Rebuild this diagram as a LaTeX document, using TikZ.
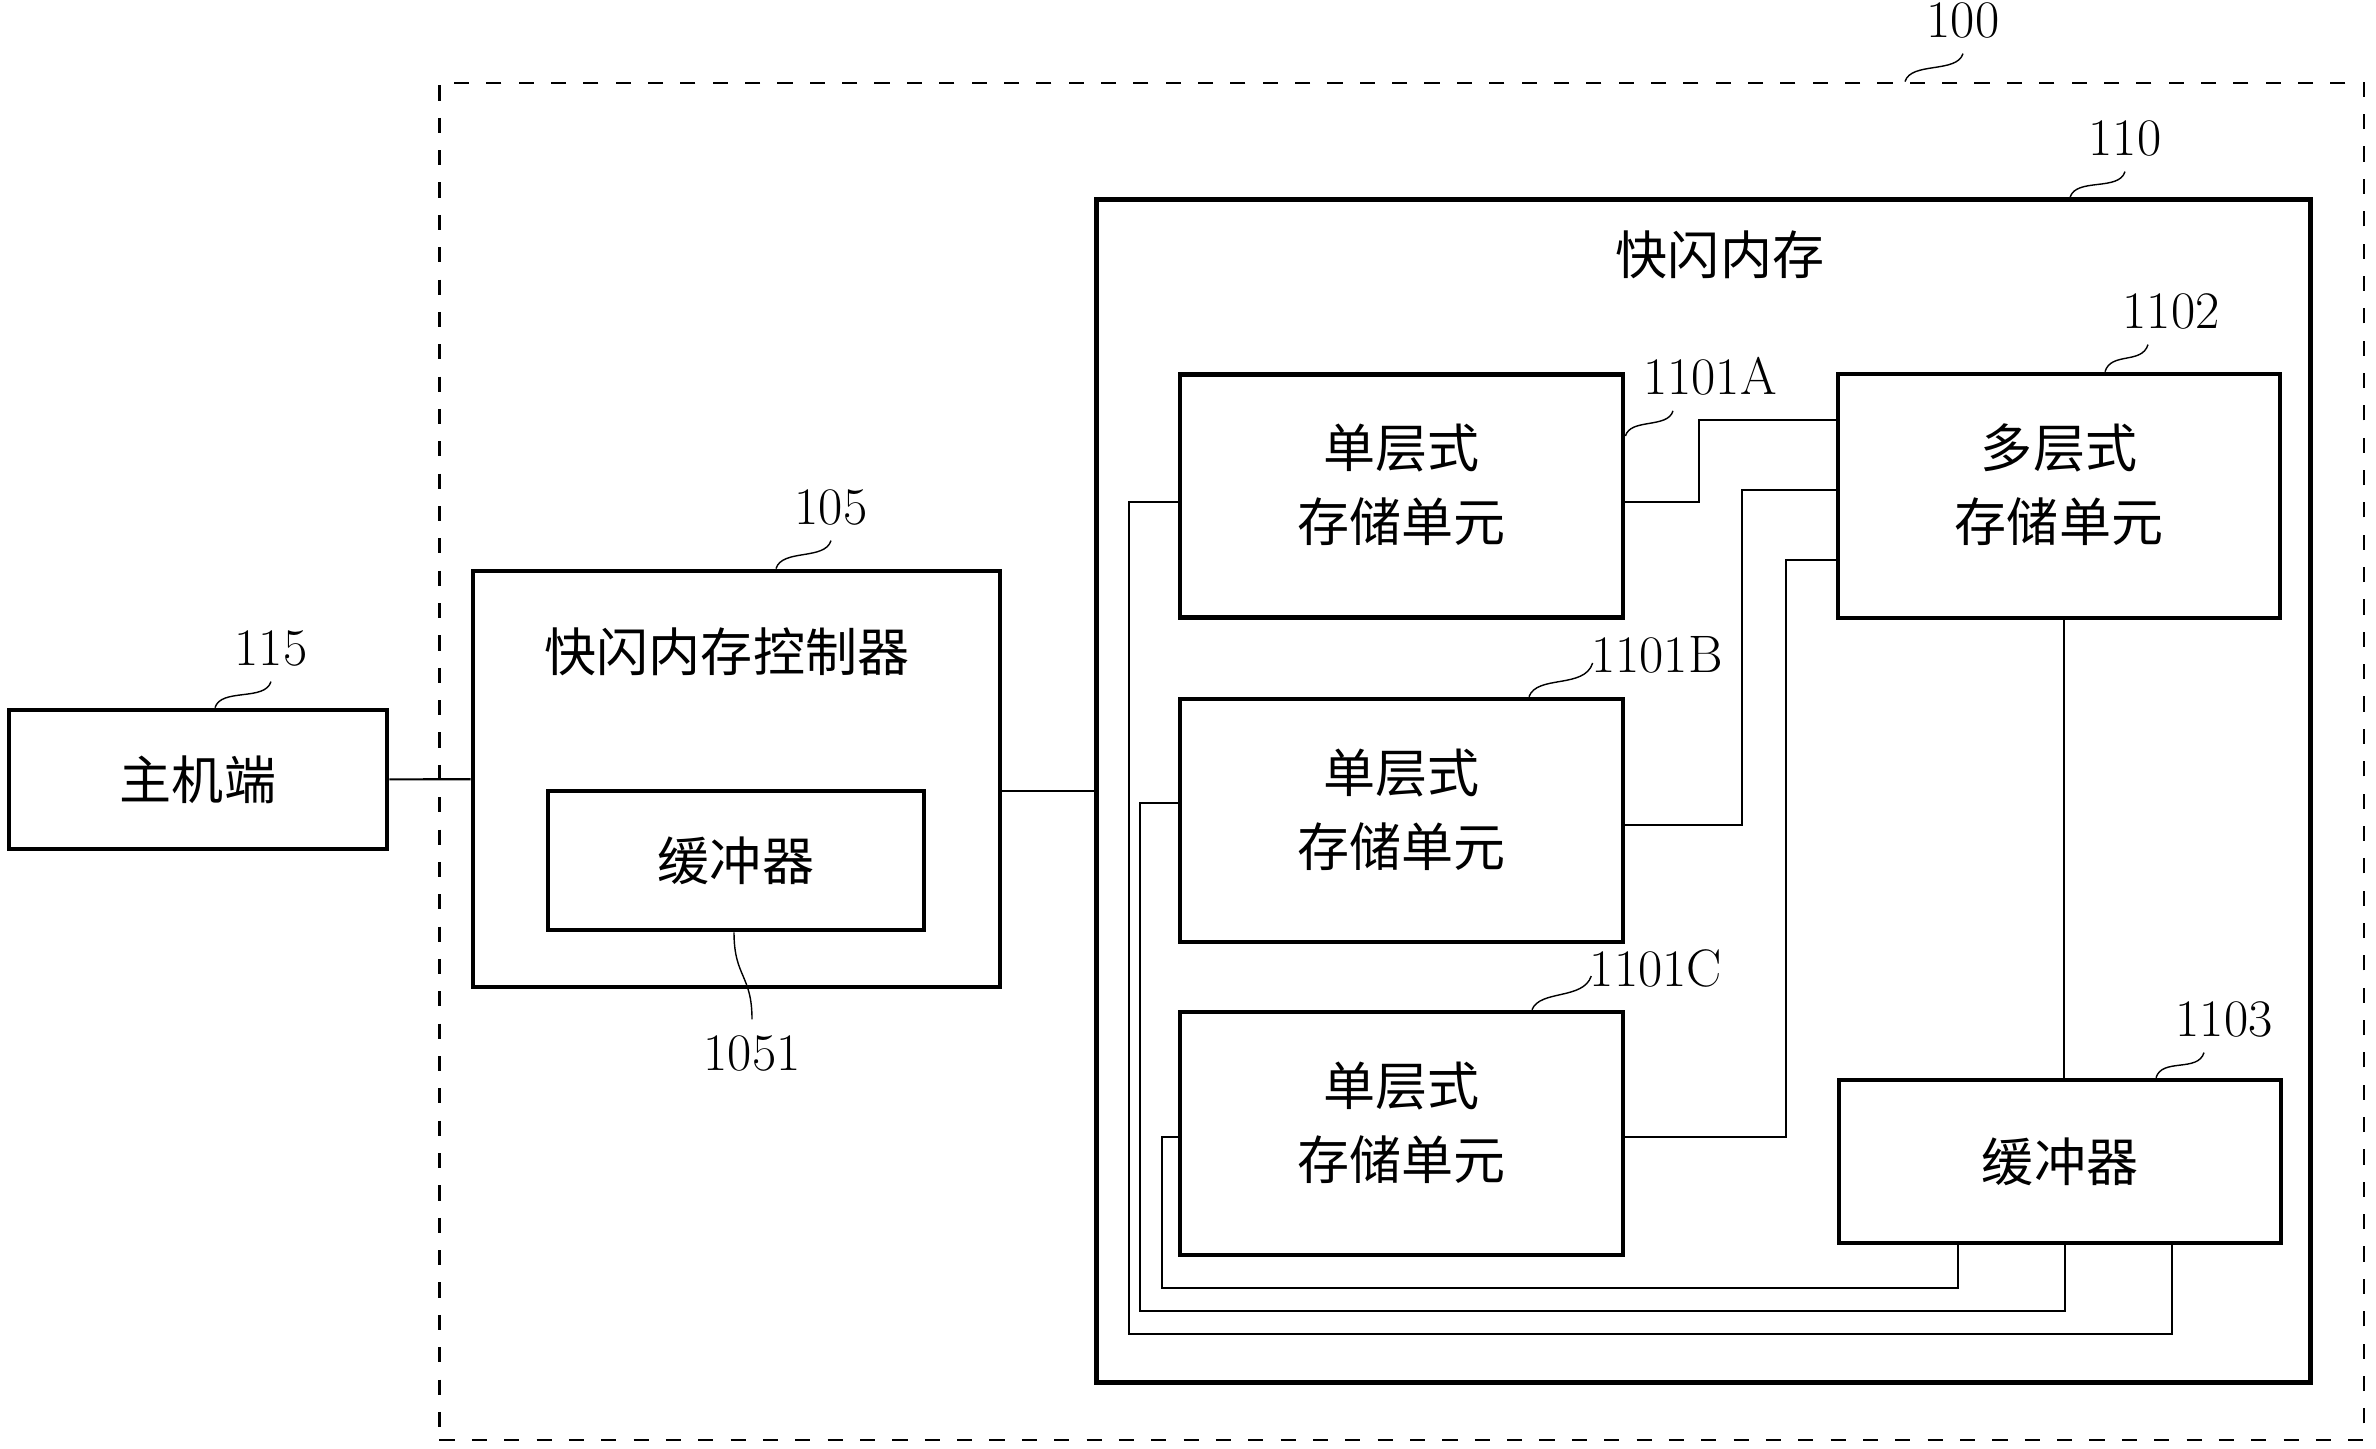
\documentclass[tikz,border=0pt]{standalone}
\usepackage{fontspec}
\newfontfamily\cjk{Noto Sans CJK SC}

\begin{document}
\begin{tikzpicture}[x=0.01cm, y=-0.01cm]

\tikzstyle{block}=[rectangle, draw=black, line width=1.3pt, inner sep=0pt, align=center, font=\cjk\fontsize{14.8}{21}\selectfont]
\tikzstyle{cell}=[block, minimum width=4.43cm, minimum height=2.43cm, text depth=0.26cm]
\tikzstyle{title}=[font=\cjk\fontsize{14.8}{21}\selectfont]
\tikzstyle{num}=[inner sep=0.15cm, font=\fontsize{15}{18}\selectfont]
\tikzstyle{wire}=[line width=0.6pt]
\tikzstyle{lead}=[line width=0.4pt]

\useasboundingbox (0,0) rectangle (2376,1448);

% system
\node[draw, line width=0.6pt, dash pattern=on 4.3pt off 4.9pt, minimum width=19.23cm, minimum height=13.57cm] (n100) at (1401.5,761.5) {};

\node[block, minimum width=3.78cm, minimum height=1.39cm] (n115) at (198,779.5) {主机端};
\node[block, minimum width=5.27cm, minimum height=4.16cm] (n105) at (736.5,779) {};
\node[title] (t105) at (727,652) {快闪内存控制器};
\node[block, minimum width=3.76cm, minimum height=1.39cm] (n1051) at (736,860.5) {缓冲器};

% flash memory
\node[block, minimum width=12.13cm, minimum height=11.82cm] (n110) at (1703.5,791) {};
\node[title] (t110) at (1720,255) {快闪内存};

\node[cell] (n1101a) at (1401.5,496) {单层式\\存储单元};
\node[cell] (n1101b) at (1401.5,820.5) {单层式\\存储单元};
\node[cell] (n1101c) at (1401.5,1133.5) {单层式\\存储单元};
\node[cell, minimum width=4.42cm, minimum height=2.44cm] (n1102) at (2059,496) {多层式\\存储单元};
\node[block, minimum width=4.42cm, minimum height=1.63cm] (n1103) at (2060,1161.5) {缓冲器};

% numbers
\node[num] (l100) at (1963,20) {100};
\node[num] (l110) at (2125,138) {110};
\node[num] (l115) at (271,648) {115};
\node[num] (l105) at (831,507) {105};
\node[num] (l1051) at (752,1053) {1051};
\node[num] (l1101a) at (1710,376) {1101A};
\node[num] (l1101b) at (1657,655) {1101B};
\node[num] (l1101c) at (1656,968) {1101C};
\node[num] (l1102) at (2171,311) {1102};
\node[num] (l1103) at (2224,1019) {1103};

\draw[lead] (l100.south) .. controls +(-6,20) and +(6,-20) .. (1905,0 |- n100.north);
\draw[lead] (l110.south) .. controls +(-6,20) and +(6,-20) .. (2070,0 |- n110.north);
\draw[lead] (l115.south) .. controls +(-6,20) and +(6,-20) .. (215,0 |- n115.north);
\draw[lead] (l105.south) .. controls +(-6,20) and +(6,-20) .. (776,0 |- n105.north);
\draw[lead] (734,0 |- n1051.south) .. controls +(0,45) and +(0,-45) .. (l1051.north);
\draw[lead] ([xshift=-0.37cm]l1101a.south) .. controls +(-5,18) and +(5,-18) .. (n1101a.east |- 0,436);
\draw[lead] ([xshift=0.17cm,yshift=-0.08cm]l1101b.west) .. controls +(-8,26) and +(8,-22) .. (1529,0 |- n1101b.north);
\draw[lead] ([xshift=0.17cm,yshift=-0.08cm]l1101c.west) .. controls +(-8,24) and +(8,-20) .. (1532,0 |- n1101c.north);
\draw[lead] ([xshift=-0.23cm]l1102.south) .. controls +(-6,20) and +(6,-20) .. (2105,0 |- n1102.north);
\draw[lead] ([xshift=-0.2cm]l1103.south) .. controls +(-6,20) and +(6,-20) .. (2156,0 |- n1103.north);

% links
\path (n115) [wire] edge (n105);
\draw[wire] (n105.east |- 0,791) -- (n110.west |- 0,791);

\draw[wire] (n1101a.east |- 0,502) -| (1699,420) -- (n1102.west |- 0,420);
\draw[wire] (n1101b.east |- 0,825) -| (1742,490) -- (n1102.west |- 0,490);
\draw[wire] (n1101c.east |- 0,1137) -| (1786,560) -- (n1102.west |- 0,560);
\draw[wire] (2064,0 |- n1102.south) -- (2064,0 |- n1103.north);

\draw[wire] (n1101a.west |- 0,502) -| (1129,1334) -| (2172,0 |- n1103.south);
\draw[wire] (n1101b.west |- 0,803) -| (1140,1311) -| (2065,0 |- n1103.south);
\draw[wire] (n1101c.west |- 0,1137) -| (1162,1288) -| (1958,0 |- n1103.south);

\end{tikzpicture}
\end{document}
